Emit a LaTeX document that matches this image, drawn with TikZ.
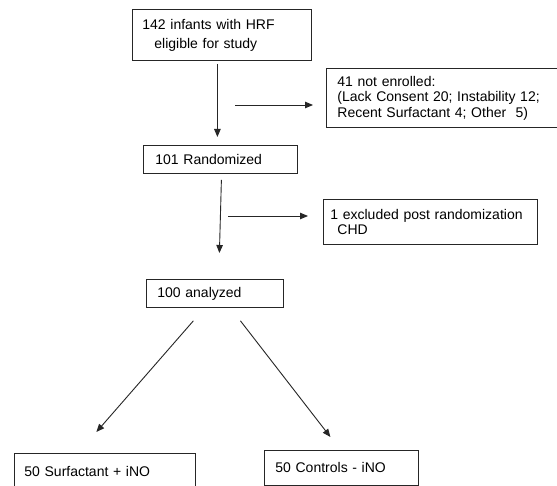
\documentclass[tikz,border=0pt]{standalone}
\usepackage{fontspec}
\setmainfont{Liberation Sans}
\usetikzlibrary{arrows.meta}
\begin{document}
\begin{tikzpicture}[x=1pt,y=-1pt,
  box/.style={draw=black!85, line width=0.8pt, anchor=north west, align=left,
    inner ysep=0pt, font=\fontsize{14}{15.5}\selectfont},
  arr/.style={draw=black!85, line width=0.9pt, -{Triangle[length=8pt,width=6.5pt]}}]
\useasboundingbox (0,0) rectangle (557,486);
\clip (0,0) rectangle (557,486);
\fill[white] (0,0) rectangle (557,486);

\node[box, text width=159pt, inner xsep=10pt, minimum height=51pt] (b1) at (132,9)
  {\mbox{142 infants with HRF}\\[3.5pt]\mbox{\hspace*{12pt}eligible for study}};
\node[box, text width=212pt, inner xsep=11pt, minimum height=59pt] (b2) at (326,68)
  {\mbox{41 not enrolled:}\\\mbox{(Lack Consent 20; Instability 12;}\\\mbox{Recent Surfactant 4; Other\ \ 5)}};
\node[box, text width=130pt, inner xsep=12pt, minimum height=28pt] (b3) at (143,145)
  {\mbox{101 Randomized}};
\node[box, text width=200pt, inner xsep=7pt, minimum height=45pt] (b4) at (323,199)
  {\mbox{1 excluded post randomization}\\\mbox{\hspace*{7pt}CHD}};
\node[box, text width=115pt, inner xsep=11pt, minimum height=28pt] (b5) at (146,279)
  {\mbox{100 analyzed}};
\node[box, text width=161pt, inner xsep=10pt, minimum height=36pt] (b6) at (14,453)
  {\mbox{50 Surfactant + iNO}};
\node[box, text width=132pt, inner xsep=11pt, minimum height=35pt] (b7) at (264,450)
  {\mbox{50 Controls - iNO}};

\coordinate (h1) at (235,105);
\coordinate (h2) at (228,216);

\draw[arr] ([xshift=-4.5pt,yshift=-3pt]b1.south) -- ([xshift=-3pt,yshift=8pt]b3.north);
\draw[arr, shorten >=13pt] (h1) -- (h1 -| b2.west);
\draw[arr] ([xshift=1pt,yshift=-6pt]b3.south) -- ([xshift=4.5pt,yshift=26pt]b5.north);
\draw[arr, shorten >=15pt] (h2) -- (h2 -| b4.west);
\draw[arr] ([xshift=-21.5pt,yshift=-13pt]b5.south) -- ([xshift=-8.5pt,yshift=21pt]b6.north);
\draw[arr] ([xshift=25.5pt,yshift=-13pt]b5.south) -- ([xshift=-11pt,yshift=13pt]b7.north);
\end{tikzpicture}
\end{document}
